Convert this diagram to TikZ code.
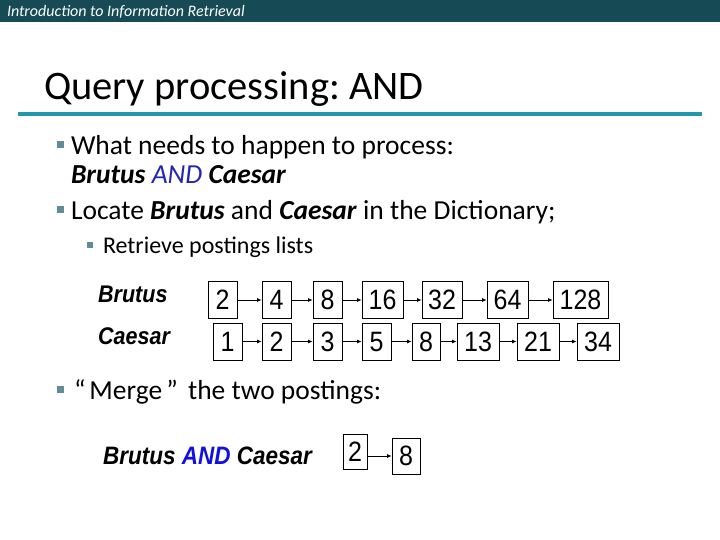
\documentclass[tikz,border=0pt]{standalone}
\usepackage{fontspec}
\setmainfont{Carlito}
\newfontfamily\arialf{Liberation Sans}
\usetikzlibrary{arrows.meta}
\definecolor{hdr}{HTML}{164B55}
\definecolor{rulec}{HTML}{2497AF}
\definecolor{bul}{HTML}{5F8C97}
\definecolor{andblue}{HTML}{2323B5}
\definecolor{andblue2}{HTML}{1010E0}
\frenchspacing
\newcommand{\dg}[1]{{\arialf\fontsize{25}{25}\selectfont\scalebox{1}[1.12]{#1}}}
\newcommand{\tm}[2]{{\arialf\bfseries\itshape\fontsize{#1}{#1}\selectfont\scalebox{1}[1.12]{#2}}}
\begin{document}
\begin{tikzpicture}[x=1pt,y=-1pt,
  txt/.style={anchor=base west,inner sep=0pt,outer sep=0pt},
  bigbul/.style={fill=bul,minimum size=7pt,inner sep=0pt},
  smallbul/.style={fill=bul,minimum size=6pt,inner sep=0pt},
  pbox/.style={draw,line width=0.8pt,inner sep=0pt,text height=20pt,text depth=0.5pt},
  arr/.style={-{Latex[length=4.5pt,width=4pt]},line width=0.8pt}]
\useasboundingbox (0,0) rectangle (720,540);
% header bar
\fill[hdr] (0,0) rectangle (720,22);
\node[txt,text=white] (hd) at (7,17) {\fontsize{16}{16}\selectfont\itshape Introduction to Information Retrieval};
% title
\node[txt] (title) at (44,100) {\fontsize{40.5}{40.5}\selectfont Query processing: AND};
\draw[rulec,line width=3.5pt] (18,114) -- (702,114);
% bullets
\node[bigbul] (bu1) at (60.5,145) {};
\node[txt] (t1) at (71,155) {\fontsize{27.5}{27.5}\selectfont What needs to happen to process:};
\node[txt] (t1b) at (71,184) {\fontsize{27.5}{27.5}\selectfont\textbf{\textit{Brutus}} \textcolor{andblue}{\textit{AND}} \textbf{\textit{Caesar}}};
\node[bigbul] (bu2) at (60.5,210) {};
\node[txt] (t2) at (71,220) {\fontsize{27.5}{27.5}\selectfont Locate \textbf{\textit{Brutus}} and \textbf{\textit{Caesar}} in the Dictionary;};
\node[smallbul] (bu3) at (90,245) {};
\node[txt] (t3) at (103,253) {\fontsize{24}{24}\selectfont Retrieve postings lists};
\node[bigbul] (bu4) at (60.5,389) {};
\node[txt] (t4) at (74,399) {\fontsize{27.5}{27.5}\selectfont “\hspace{4pt}Merge\hspace{4pt}”\hspace{4pt} the two postings:};
% term labels
\node[anchor=west,inner sep=0pt] (lb) at (98,294) {\tm{21.5}{Brutus}};
\node[anchor=west,inner sep=0pt] (lc) at (98,336) {\tm{21.5}{Caesar}};
% boxes: name, left, right, centre y, text
\newcommand{\bx}[5]{\node[pbox,minimum width={#3-#2},minimum height=37pt] (#1) at ({(#2+#3)/2},#4) {\dg{#5}};}
% Brutus row
\bx{b1}{208}{237}{300}{2}
\bx{b2}{262}{291}{300}{4}
\bx{b3}{313}{342}{300}{8}
\bx{b4}{362}{403}{300}{16}
\bx{b5}{422}{462}{300}{32}
\bx{b6}{487}{528}{300}{64}
\bx{b7}{553}{608}{300}{128}
% Caesar row
\bx{c1}{213}{242}{341.5}{1}
\bx{c2}{262}{291}{341.5}{2}
\bx{c3}{313}{342}{341.5}{3}
\bx{c4}{362}{391}{341.5}{5}
\bx{c5}{412}{440}{341.5}{8}
\bx{c6}{457}{499}{341.5}{13}
\bx{c7}{517}{559}{341.5}{21}
\bx{c8}{577}{619}{341.5}{34}
\foreach \a/\b in {b1/b2,b2/b3,b3/b4,b4/b5,b5/b6,b6/b7,c1/c2,c2/c3,c3/c4,c4/c5,c5/c6,c6/c7,c7/c8}
  \draw[arr] (\a) -- (\b);
% result
\node[anchor=west,inner sep=0pt] (res) at (103,456) {\tm{22.5}{Brutus \textcolor{andblue2}{AND} Caesar}};
\node[pbox,minimum width=24pt,minimum height=35pt] (r1) at (355,451.5) {\dg{2}};
\node[pbox,minimum width=28pt,minimum height=36pt] (r2) at (406,456) {\dg{8}};
\draw[arr] (r1.east |- r2) -- (r2);
\end{tikzpicture}
\end{document}
